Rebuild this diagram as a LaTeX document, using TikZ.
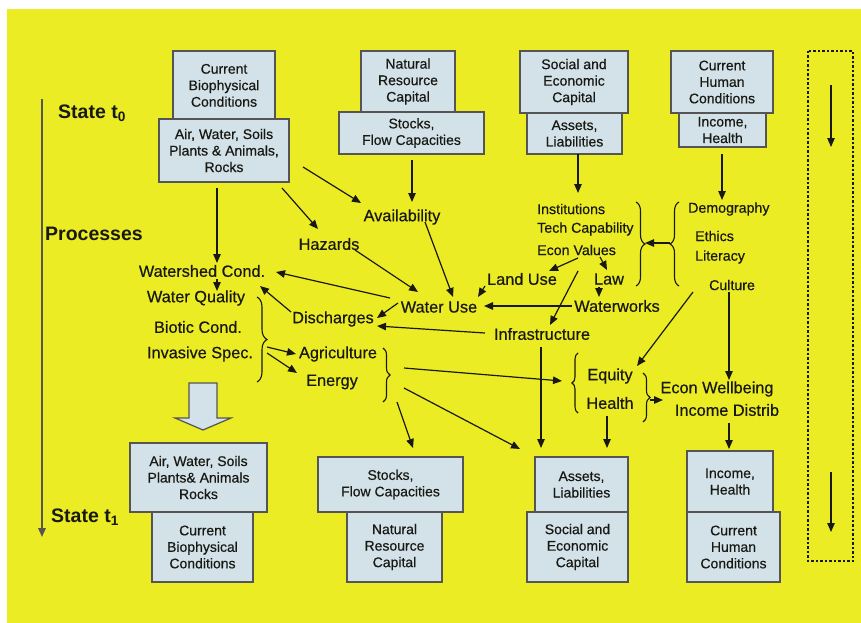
\documentclass[tikz,border=0pt]{standalone}
\usepackage{fontspec}
\setmainfont{Liberation Sans}
\newfontface\embface{Liberation Sans}[FakeBold=0.5]
\usetikzlibrary{arrows.meta,calc,decorations.pathreplacing}
\definecolor{bgyellow}{RGB}{236,236,36}
\definecolor{boxfill}{RGB}{210,226,232}
\definecolor{boxline}{RGB}{85,85,85}
\definecolor{inkc}{RGB}{25,25,20}
\newcommand\myboxfont{\embface\fontsize{14}{16.5}\selectfont}
\newcommand\myprocfont{\embface\fontsize{16.3}{19}\selectfont}
\newcommand\mysmallfont{\embface\fontsize{14.2}{17}\selectfont}
\newcommand\myheadfont{\fontsize{19.5}{23}\selectfont\bfseries}
\begin{document}
\begin{tikzpicture}[x=1pt,y=-1pt,
  bx/.style={draw=boxline,fill=boxfill,line width=1.5pt,align=center,font=\myboxfont,inner sep=0pt,text=inkc},
  pl/.style={font=\myprocfont,inner sep=1pt,text=inkc},
  sl/.style={font=\mysmallfont,inner sep=1pt,text=inkc},
  hl/.style={font=\myheadfont,inner sep=0pt,text=inkc,anchor=west},
  arr/.style={draw=inkc,line width=1.2pt,-{Triangle[length=9pt,width=7.5pt]}},
  brc/.style={draw=inkc,line width=1.1pt,decorate,decoration={brace,amplitude=#1}},
]
\fill[white] (0,0) rectangle (861,623);
\fill[bgyellow] (7,9) rectangle (861,623);
\useasboundingbox (0,0) rectangle (861,623);

% ---- top boxes (state t0)
\node[bx,minimum width=102pt,minimum height=68pt] (b1u) at (224,85) {\\[-6pt]Current\\Biophysical\\Conditions};
\node[bx,minimum width=130pt,minimum height=63pt] (b1l) at (224,150.5) {Air, Water, Soils\\Plants \& Animals,\\Rocks};
\node[bx,minimum width=94pt,minimum height=61pt] (b2u) at (408,81.5) {Natural\\Resource\\Capital};
\node[bx,minimum width=145pt,minimum height=42pt] (b2l) at (411.5,133) {Stocks,\\Flow Capacities};
\node[bx,minimum width=108pt,minimum height=62pt] (b3u) at (574,82) {Social and\\Economic\\Capital};
\node[bx,minimum width=95pt,minimum height=41pt] (b3l) at (574.5,133.5) {Assets,\\Liabilities};
\node[bx,minimum width=102pt,minimum height=62pt] (b4u) at (722,82) {Current\\Human\\Conditions};
\node[bx,minimum width=87pt,minimum height=34pt] (b4l) at (722.5,130) {Income,\\Health};

% ---- bottom boxes (state t1)
\node[bx,minimum width=137pt,minimum height=69pt] (c1u) at (198.5,477.5) {Air, Water, Soils\\Plants\& Animals\\Rocks};
\node[bx,minimum width=101pt,minimum height=70pt] (c1l) at (202.5,547) {Current\\Biophysical\\Conditions};
\node[bx,minimum width=145pt,minimum height=55pt] (c2u) at (390.5,484.5) {Stocks,\\Flow Capacities};
\node[bx,minimum width=95pt,minimum height=70pt] (c2l) at (394.5,547) {Natural\\Resource\\Capital};
\node[bx,minimum width=93pt,minimum height=55pt] (c3u) at (581.5,484.5) {Assets,\\Liabilities};
\node[bx,minimum width=101pt,minimum height=70pt] (c3l) at (577.5,547) {Social and\\Economic\\Capital};
\node[bx,minimum width=86pt,minimum height=61pt] (c4u) at (730,481.5) {Income,\\Health};
\node[bx,minimum width=93pt,minimum height=70pt] (c4l) at (733.5,547) {Current\\Human\\Conditions};

% ---- headings and time axis
\node[hl] (st0) at (58,113) {State t\textsubscript{0}};
\node[hl] (proc) at (45,234) {Processes};
\node[hl] (st1) at (51,517) {State t\textsubscript{1}};
\coordinate (axtop) at (42,99);
\coordinate (axbot) at (42,537);
\draw[arr,draw=boxline,line width=1.6pt] (axtop) -- (axbot);

% ---- dotted frame on the right
\draw[inkc,line width=1.4pt,dash pattern=on 2.5pt off 2pt] (808,51) rectangle (853,561);
\coordinate (d1a) at (831,85);
\coordinate (d1b) at (831,147);
\coordinate (d2a) at (831,472);
\coordinate (d2b) at (831,532);
\draw[arr] (d1a) -- (d1b);
\draw[arr] (d2a) -- (d2b);

% ---- block arrow
\draw[fill=boxfill,draw=boxline,line width=1.2pt] (189,383) -- (217,383) -- (217,418) -- (231,418) -- (203,430) -- (175,418) -- (189,418) -- cycle;

% ---- process labels
\node[pl] (avail) at (402,217) {Availability};
\node[pl] (hazards) at (329,244) {Hazards};
\node[pl] (watershed) at (202,271) {Watershed Cond.};
\node[pl] (wq) at (196,298) {Water Quality};
\node[pl] (biotic) at (198,327) {Biotic Cond.};
\node[pl] (invasive) at (200,354) {Invasive Spec.};
\node[pl] (discharges) at (333,319) {Discharges};
\node[pl] (wateruse) at (439,307) {Water Use};
\node[pl] (agri) at (338,354) {Agriculture};
\node[pl] (energy) at (332,382) {Energy};
\node[sl,anchor=west] (inst) at (536,209) {Institutions};
\node[sl,anchor=west] (tech) at (536,229) {Tech Capability};
\node[sl,anchor=west] (econval) at (536,250) {Econ Values};
\node[sl,anchor=west] (demog) at (687,209) {Demography};
\node[sl,anchor=west] (ethics) at (694,236) {Ethics};
\node[sl,anchor=west] (literacy) at (694,257) {Literacy};
\node[sl] (culture) at (732,285) {Culture};
\node[pl] (landuse) at (522,279) {Land Use};
\node[pl] (law) at (609,279) {Law};
\node[pl] (waterworks) at (617,306) {Waterworks};
\node[pl] (infra) at (542,334) {Infrastructure};
\node[pl] (equity) at (610,376) {Equity};
\node[pl] (health) at (610,403) {Health};
\node[pl] (econwell) at (717,389) {Econ Wellbeing};
\node[pl] (incdist) at (727,410) {Income Distrib};

% ---- braces
\draw[brc=10pt] (257,297) -- (257,382);
\coordinate (br1) at (267,348);
\draw[brc=7pt] (383,348) -- (383,402);
\coordinate (br2) at (390,375);
\draw[brc=9pt] (636,202) -- (636,286);
\coordinate (br3) at (645,243);
\draw[brc=9pt] (679,286) -- (679,202);
\coordinate (br4) at (670,243);
\draw[brc=6pt] (578,413) -- (578,353);
\coordinate (br5) at (572,383);
\draw[brc=7pt] (643,373) -- (643,422);
\coordinate (br6) at (650,400);

% ---- connectors
\draw[arr] ($(b1l)+(-7,37.5)$) -- ($(watershed)+(15,-8)$);
\draw[arr] ($(watershed)+(15,8)$) -- ($(wq)+(21,-7)$);
\draw[arr] ($(b1l)+(79,16.5)$) -- ($(avail)+(-41,-14)$);
\draw[arr] ($(b1l)+(58,37.5)$) -- ($(hazards)+(-11,-15)$);
\draw[arr] ($(b2l)+(0.5,27)$) -- ($(avail)+(10,-15)$);
\draw[arr] ($(avail)+(23,5)$) -- ($(wateruse)+(14,-10)$);
\draw[arr] ($(hazards)+(26,6)$) -- ($(wateruse)+(-21,-15)$);
\draw[arr] ($(wateruse)+(-49,-9)$) -- ($(watershed)+(74,1)$);
\draw[arr] ($(wateruse)+(-41,-4)$) -- ($(discharges)+(44,-1)$);
\draw[arr] ($(infra)+(-57,-1)$) -- ($(discharges)+(44,7)$);
\draw[arr] ($(discharges)+(-42,-7)$) -- ($(watershed)+(58,15)$);
\draw[arr] ($(br1)+(0,-1)$) -- ($(agri)+(-42,0)$);
\draw[arr] ($(br1)+(0,5)$) -- ($(energy)+(-35,-9)$);
\draw[arr] ($(econval.west)+(42,8)$) -- ($(landuse)+(27,-8)$);
\draw[arr] ($(econval.west)+(64,7)$) -- ($(law)+(-2,-9)$);
\draw[arr] ($(econval.west)+(42,21)$) -- ($(infra)+(8,-9)$);
\draw[arr] ($(law)+(-10,8)$) -- ($(waterworks)+(-18,-9)$);
\draw[arr] ($(waterworks)+(-45,0)$) -- ($(wateruse)+(45,-1)$);
\draw[arr] ($(landuse)+(-37,7)$) -- ($(wateruse)+(39,-10)$);
\draw[arr] ($(b3l)+(3.5,20.5)$) -- ($(inst.west)+(42,-16)$);
\draw[arr] ($(b4l)+(-0.5,24)$) -- ($(demog.west)+(35,-9)$);
\draw[arr] ($(culture)+(-39,7)$) -- ($(equity)+(27,-10)$);
\draw[arr] ($(culture)+(-3,7)$) -- ($(econwell)+(12,-9)$);
\draw[arr] ($(br2)+(14,-7)$) -- ($(br5)+(-10,-2)$);
\draw[arr] ($(br2)+(14,13)$) -- ($(c3u)+(-61.5,-35.5)$);
\draw[arr] ($(br2)+(7,27)$) -- ($(c2u)+(22.5,-36.5)$);
\draw[arr] ($(infra)+(-1,13)$) -- ($(c3u)+(-40.5,-36.5)$);
\draw[arr] ($(health)+(-3,13)$) -- ($(c3u)+(25.5,-36.5)$);
\draw[arr] ($(incdist)+(2,13)$) -- ($(c4u)+(-1,-32.5)$);
\draw[arr] (br4) -- (br3);
\draw[arr] (br6) -- ($(econwell)+(-54,11)$);
\end{tikzpicture}
\end{document}
